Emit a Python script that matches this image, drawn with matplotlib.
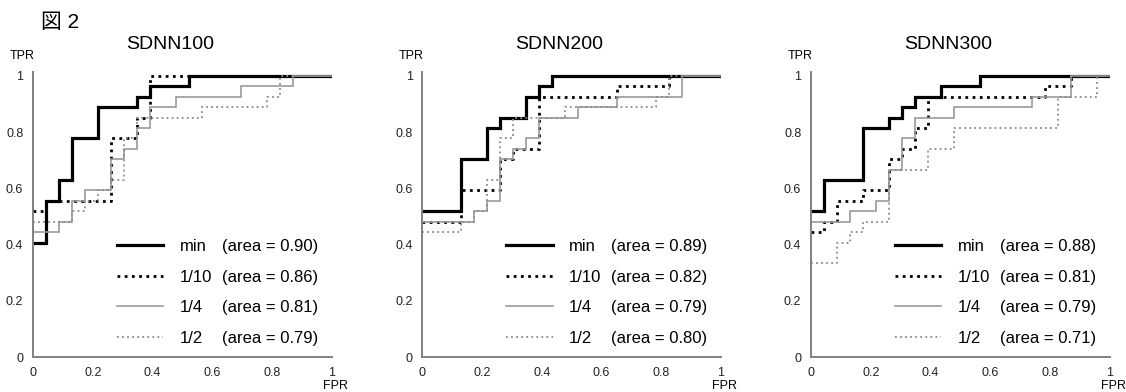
import numpy as np
import matplotlib
matplotlib.use('Agg')
from matplotlib import pyplot as plt

plt.rcParams['font.family'] = ['Liberation Sans', 'Noto Sans CJK JP']

titles = ['SDNN100', 'SDNN200', 'SDNN300']
names = ['min', '1/10', '1/4', '1/2']
areas100 = ['0.90', '0.86', '0.81', '0.79']
areas200 = ['0.89', '0.82', '0.79', '0.80']
areas300 = ['0.88', '0.81', '0.79', '0.71']

# SDNN100 ROC points
fpr100_min = [0, 0.043, 0.043, 0.087, 0.087, 0.13, 0.13, 0.217, 0.217, 0.348, 0.348, 0.391, 0.391, 0.522, 0.522, 1]
tpr100_min = [0.407, 0.407, 0.556, 0.556, 0.63, 0.63, 0.778, 0.778, 0.889, 0.889, 0.926, 0.926, 0.963, 0.963, 1, 1]
fpr100_10 = [0, 0.043, 0.043, 0.261, 0.261, 0.348, 0.348, 0.391, 0.391, 1]
tpr100_10 = [0.519, 0.519, 0.556, 0.556, 0.778, 0.778, 0.852, 0.852, 1, 1]
fpr100_4 = [0, 0.087, 0.087, 0.13, 0.13, 0.174, 0.174, 0.261, 0.261, 0.304, 0.304, 0.348, 0.348, 0.391, 0.391, 0.478, 0.478, 0.696, 0.696, 0.87, 0.87, 1]
tpr100_4 = [0.444, 0.444, 0.481, 0.481, 0.556, 0.556, 0.593, 0.593, 0.704, 0.704, 0.741, 0.741, 0.815, 0.815, 0.889, 0.889, 0.926, 0.926, 0.963, 0.963, 1, 1]
fpr100_2 = [0, 0.13, 0.13, 0.174, 0.174, 0.217, 0.217, 0.261, 0.261, 0.304, 0.304, 0.348, 0.348, 0.565, 0.565, 0.783, 0.783, 0.826, 0.826, 1]
tpr100_2 = [0.481, 0.481, 0.519, 0.519, 0.556, 0.556, 0.593, 0.593, 0.63, 0.63, 0.778, 0.778, 0.852, 0.852, 0.889, 0.889, 0.926, 0.926, 1, 1]

# SDNN200 ROC points
fpr200_min = [0, 0.13, 0.13, 0.217, 0.217, 0.261, 0.261, 0.348, 0.348, 0.391, 0.391, 0.435, 0.435, 1]
tpr200_min = [0.519, 0.519, 0.704, 0.704, 0.815, 0.815, 0.852, 0.852, 0.926, 0.926, 0.963, 0.963, 1, 1]
fpr200_10 = [0, 0.13, 0.13, 0.261, 0.261, 0.304, 0.304, 0.391, 0.391, 0.652, 0.652, 0.826, 0.826, 1]
tpr200_10 = [0.481, 0.481, 0.593, 0.593, 0.704, 0.704, 0.741, 0.741, 0.926, 0.926, 0.963, 0.963, 1, 1]
fpr200_4 = [0, 0.174, 0.174, 0.217, 0.217, 0.261, 0.261, 0.304, 0.304, 0.348, 0.348, 0.391, 0.391, 0.522, 0.522, 0.652, 0.652, 0.87, 0.87, 1]
tpr200_4 = [0.481, 0.481, 0.519, 0.519, 0.556, 0.556, 0.704, 0.704, 0.741, 0.741, 0.778, 0.778, 0.852, 0.852, 0.889, 0.889, 0.926, 0.926, 1, 1]
fpr200_2 = [0, 0.13, 0.13, 0.174, 0.174, 0.217, 0.217, 0.261, 0.261, 0.304, 0.304, 0.478, 0.478, 0.783, 0.783, 0.826, 0.826, 1]
tpr200_2 = [0.444, 0.444, 0.481, 0.481, 0.519, 0.519, 0.63, 0.63, 0.778, 0.778, 0.852, 0.852, 0.889, 0.889, 0.926, 0.926, 1, 1]

# SDNN300 ROC points
fpr300_min = [0, 0.043, 0.043, 0.174, 0.174, 0.261, 0.261, 0.304, 0.304, 0.348, 0.348, 0.435, 0.435, 0.565, 0.565, 1]
tpr300_min = [0.519, 0.519, 0.63, 0.63, 0.815, 0.815, 0.852, 0.852, 0.889, 0.889, 0.926, 0.926, 0.963, 0.963, 1, 1]
fpr300_10 = [0, 0.043, 0.043, 0.087, 0.087, 0.174, 0.174, 0.261, 0.261, 0.304, 0.304, 0.348, 0.348, 0.391, 0.391, 0.783, 0.783, 0.87, 0.87, 1]
tpr300_10 = [0.444, 0.444, 0.481, 0.481, 0.556, 0.556, 0.593, 0.593, 0.704, 0.704, 0.741, 0.741, 0.815, 0.815, 0.926, 0.926, 0.963, 0.963, 1, 1]
fpr300_4 = [0, 0.13, 0.13, 0.217, 0.217, 0.261, 0.261, 0.304, 0.304, 0.348, 0.348, 0.478, 0.478, 0.739, 0.739, 0.87, 0.87, 1]
tpr300_4 = [0.481, 0.481, 0.519, 0.519, 0.556, 0.556, 0.667, 0.667, 0.778, 0.778, 0.852, 0.852, 0.889, 0.889, 0.926, 0.926, 1, 1]
fpr300_2 = [0, 0.087, 0.087, 0.13, 0.13, 0.174, 0.174, 0.261, 0.261, 0.391, 0.391, 0.478, 0.478, 0.826, 0.826, 0.957, 0.957, 1]
tpr300_2 = [0.333, 0.333, 0.407, 0.407, 0.444, 0.444, 0.481, 0.481, 0.667, 0.667, 0.741, 0.741, 0.815, 0.815, 0.926, 0.926, 1, 1]

panels = [
    ([(fpr100_min, tpr100_min), (fpr100_10, tpr100_10), (fpr100_4, tpr100_4), (fpr100_2, tpr100_2)], areas100),
    ([(fpr200_min, tpr200_min), (fpr200_10, tpr200_10), (fpr200_4, tpr200_4), (fpr200_2, tpr200_2)], areas200),
    ([(fpr300_min, tpr300_min), (fpr300_10, tpr300_10), (fpr300_4, tpr300_4), (fpr300_2, tpr300_2)], areas300),
]

styles = [
    dict(color='black', lw=2.3, ls='-'),
    dict(color='black', lw=2.0, ls=(0, (1, 1.6))),
    dict(color='#9a9a9a', lw=1.2, ls='-'),
    dict(color='#8a8a8a', lw=1.3, ls=(0, (1, 1.8))),
]

fig = plt.figure(figsize=(11.26, 3.92), dpi=100)
lefts = [33 / 1126, 422.3 / 1126, 811 / 1126]
ticks = [0, 0.2, 0.4, 0.6, 0.8, 1]
ticklabels = ['0', '0.2', '0.4', '0.6', '0.8', '1']

for left, title, (curves, areas) in zip(lefts, titles, panels):
    ax = fig.add_axes([left, 35 / 392, 298.5 / 1126, 281 * 1.015 / 392])
    lines = []
    for (x, y), st in zip(curves, styles):
        ln, = ax.plot(x, y, solid_joinstyle='miter', **st)
        lines.append(ln)
    ax.set_xlim(0, 1)
    ax.set_ylim(0, 1.015)
    for s in ['top', 'right']:
        ax.spines[s].set_visible(False)
    for s in ['left', 'bottom']:
        ax.spines[s].set_color('#808080')
        ax.spines[s].set_linewidth(1.4)
    ax.set_xticks(ticks)
    ax.set_xticklabels(ticklabels)
    ax.set_yticks(ticks)
    ax.set_yticklabels(ticklabels)
    ax.tick_params(length=0, labelsize=9, pad=7, colors='#222222')

    ax.text(0.458, 1.095, title, transform=ax.transAxes, ha='center', va='center', fontsize=14)
    ax.text(-0.036, 1.057, 'TPR', transform=ax.transAxes, ha='center', va='center', fontsize=9)
    ax.text(1.013, -0.1, 'FPR', transform=ax.transAxes, ha='center', va='center', fontsize=9)

    leg1 = ax.legend(lines, names, loc='center left', bbox_to_anchor=(0.28, 0.226),
                     frameon=False, fontsize=12, handlelength=2.8, handletextpad=1.0,
                     labelspacing=0.93, borderpad=0, borderaxespad=0)
    ax.add_artist(leg1)
    blank = [plt.Line2D([], [], color='none') for _ in names]
    ax.legend(blank, ['(area = %s)' % a for a in areas], loc='center left',
              bbox_to_anchor=(0.633, 0.226), frameon=False, fontsize=12,
              handlelength=0, handletextpad=0, labelspacing=0.93, borderpad=0, borderaxespad=0)

fig.text(41 / 1126, 1 - 23 / 392, '図 2', ha='left', va='center', fontsize=15)

fig.savefig('out.png', dpi=100)
